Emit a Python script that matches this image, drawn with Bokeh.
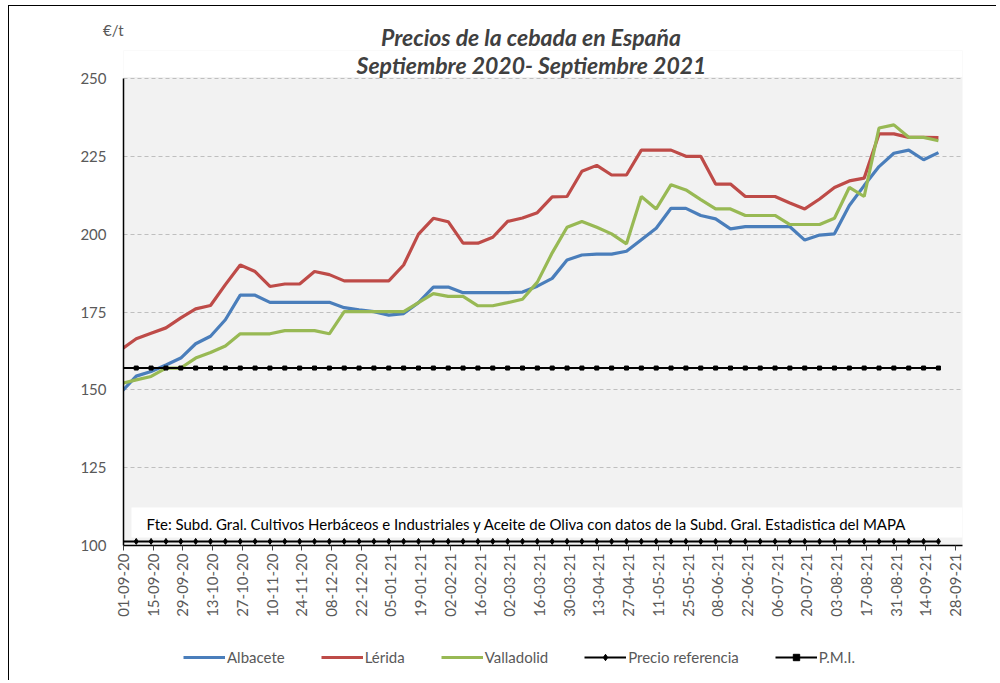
import pandas as pd
from math import pi
from bokeh.plotting import figure
from bokeh.layouts import column
from bokeh.models import (Range1d, FixedTicker, DatetimeTickFormatter, Legend, LegendItem,
                          Label, BoxAnnotation, ColumnDataSource, Div)
from bokeh.embed import file_html
from bokeh.resources import INLINE

# ---------------- data ----------------
first_week = "2020-08-31"
n_weeks = 56
albacete = [149.3, 154.4, 155.9, 158.0, 160.2, 164.8, 167.2, 172.5, 180.4, 180.4,
            178.1, 178.1, 178.1, 178.1, 178.1, 176.4, 175.7, 175.1, 174.0, 174.5,
            178.0, 183.0, 183.0, 181.2, 181.2, 181.2, 181.2, 181.4, 183.3, 185.8,
            191.7, 193.3, 193.6, 193.6, 194.5, 198.2, 201.9, 208.3, 208.3, 206.0,
            204.9, 201.7, 202.4, 202.4, 202.4, 202.4, 198.1, 199.7, 200.1, 209.2,
            215.6, 221.7, 226.0, 227.0, 223.9, 226.2]
lerida = [163.0, 166.4, 168.2, 169.9, 173.1, 176.0, 177.1, 183.8, 190.1, 188.0,
          183.2, 184.0, 184.0, 188.0, 187.0, 185.0, 185.0, 185.0, 185.0, 190.1,
          200.0, 205.1, 204.0, 197.1, 197.1, 199.0, 204.1, 205.2, 206.9, 212.0,
          212.1, 220.2, 222.1, 219.0, 219.0, 227.0, 227.0, 227.0, 225.0, 225.0,
          216.1, 216.1, 212.1, 212.1, 212.1, 210.0, 208.1, 211.3, 215.0, 217.1,
          218.0, 232.2, 232.2, 231.1, 231.1, 231.0]
valladolid = [152.0, 153.2, 154.3, 157.0, 157.0, 160.2, 162.0, 164.1, 168.0, 168.0,
              168.0, 169.0, 169.0, 169.0, 168.0, 175.1, 175.1, 175.1, 175.1, 175.1,
              178.0, 180.9, 180.0, 180.0, 177.0, 177.0, 178.0, 179.1, 184.6, 194.0,
              202.2, 204.1, 202.2, 200.1, 196.9, 212.1, 208.1, 215.9, 214.2, 211.1,
              208.1, 208.1, 206.0, 206.0, 206.0, 203.1, 203.1, 203.1, 205.1, 215.0,
              212.1, 234.1, 235.1, 231.1, 231.1, 230.0]
precio_referencia = [101.31] * n_weeks
pmi = [157.0] * n_weeks
tick_start, tick_end = "2020-09-01", "2021-09-28"
y_min, y_max = 100, 250
y_ticks = [100, 125, 150, 175, 200, 225, 250]

series_names = ["Albacete", "Lérida", "Valladolid", "Precio referencia", "P.M.I."]
series_colors = ["#4A7EBB", "#BE4B48", "#98B954"]
title_lines = ["Precios de la cebada en España", "Septiembre 2020- Septiembre 2021"]
unit_label = "€/t"
source_note = ("Fte: Subd. Gral. Cultivos Herbáceos e Industriales y Aceite de Oliva "
               "con datos de la Subd. Gral. Estadistica del MAPA")

dates = pd.date_range(first_week, periods=n_weeks, freq="7D")
tick_dates = pd.date_range(tick_start, tick_end, freq="14D")

src = ColumnDataSource(dict(x=dates, alb=albacete, ler=lerida, val=valladolid,
                            ref=precio_referencia, pmi=pmi))

FONT = "Lato"
GREY = "#595959"
TITLE_GREY = "#404040"
W = 987                       # content width (page x 9 .. 996)
BORDER_L, BORDER_R = 114, 34  # plot frame from page x 123 to 962
PX_PER_UNIT = 467 / (y_max - y_min)   # frame height of the value area
HEAD_ROOM = 28                # px of white frame area kept above the top gridline

# ---------------- header (unit + first title line, real HTML text) ----------------
header_html = (
    f'<div style="position:relative;width:{W}px;height:44px;">'
    f'<div style="position:absolute;left:94px;top:15px;font-family:{FONT};font-size:15px;'
    f'line-height:18px;color:{GREY};">{unit_label}</div>'
    f'<div style="position:absolute;left:222px;width:600px;top:19px;text-align:center;'
    f'font-family:{FONT};font-size:23px;line-height:24px;font-weight:bold;'
    f'font-style:italic;color:{TITLE_GREY};white-space:nowrap;">{title_lines[0]}</div>'
    f'</div>')
hdr = Div(text=header_html, width=W, height=44, margin=0)

# ---------------- main chart ----------------
p = figure(width=W, height=580, output_backend="svg", toolbar_location=None, title=None,
           x_axis_type="datetime",
           x_range=Range1d(pd.Timestamp("2020-09-01"), pd.Timestamp("2021-10-01 08:00")),
           y_range=Range1d(y_min, y_max + HEAD_ROOM / PX_PER_UNIT),
           min_border_left=BORDER_L, min_border_right=BORDER_R, min_border_top=0,
           min_border_bottom=85,
           background_fill_color="#F2F2F2", border_fill_color="white",
           outline_line_color=None)

p.xaxis.ticker = FixedTicker(ticks=[d.timestamp() * 1000 for d in tick_dates])
fmt = "%d-%m-%y"
p.xaxis.formatter = DatetimeTickFormatter(microseconds=fmt, milliseconds=fmt, seconds=fmt,
                                          minsec=fmt, minutes=fmt, hourmin=fmt, hours=fmt,
                                          days=fmt, months=fmt, years=fmt)
p.xaxis.major_label_orientation = pi / 2
p.xaxis.major_tick_out = 5
p.xaxis.major_tick_in = 0
p.xaxis.minor_tick_line_color = None
p.xaxis.major_label_standoff = 3
p.xaxis.axis_line_color = "black"
p.xaxis.axis_line_width = 1.5
p.xaxis.major_tick_line_color = "#404040"

p.yaxis.ticker = FixedTicker(ticks=y_ticks)
p.yaxis.bounds = (y_min, y_max)
p.yaxis.major_tick_out = 0
p.yaxis.major_tick_in = 0
p.yaxis.minor_tick_line_color = None
p.yaxis.major_label_standoff = 17
p.yaxis.axis_line_color = "black"
p.yaxis.axis_line_width = 1.5

for ax in (p.xaxis, p.yaxis):
    ax.major_label_text_font = FONT
    ax.major_label_text_font_size = "15px"
    ax.major_label_text_color = GREY

p.xgrid.visible = False
p.ygrid.grid_line_color = "#BFBFBF"
p.ygrid.grid_line_dash = "4 3"
p.ygrid.grid_line_width = 1

# white area above the value range (holds the second title line)
p.add_layout(BoxAnnotation(bottom=y_max + 0.5, fill_color="white", fill_alpha=1,
                           line_color=None, level="underlay"))
p.add_layout(Label(x=408, y=481, x_units="screen", y_units="screen", text=title_lines[1],
                   text_font=FONT, text_font_size="23px", text_font_style="bold italic",
                   text_color=TITLE_GREY, text_align="center", text_baseline="middle"))

# source note box + text
p.add_layout(BoxAnnotation(left=8, left_units="screen", bottom=8, bottom_units="screen",
                           top=38, top_units="screen", fill_color="white", fill_alpha=1,
                           line_color=None, level="underlay"))
p.add_layout(Label(x=23, y=22, x_units="screen", y_units="screen", text=source_note,
                   text_font=FONT, text_font_size="15px", text_color="black",
                   text_baseline="middle"))

p.line("x", "alb", source=src, line_color=series_colors[0], line_width=3.2)
p.line("x", "ler", source=src, line_color=series_colors[1], line_width=3.2)
p.line("x", "val", source=src, line_color=series_colors[2], line_width=3.2)
p.line("x", "ref", source=src, line_color="black", line_width=2)
p.scatter("x", "ref", source=src, marker="diamond", size=6, color="black")
p.line("x", "pmi", source=src, line_color="black", line_width=2)
p.scatter("x", "pmi", source=src, marker="square", size=4, color="black")

# ---------------- legend strip (proxy glyphs placed outside its visible range) ----------------
lg = figure(width=W, height=50, output_backend="svg", toolbar_location=None, title=None,
            x_range=Range1d(0, 1), y_range=Range1d(0, 1),
            x_axis_location=None, y_axis_location=None,
            min_border_left=BORDER_L, min_border_right=BORDER_R, min_border_top=0,
            min_border_bottom=0, outline_line_color=None,
            background_fill_color="white", border_fill_color="white")
lg.grid.visible = False
proxy = ColumnDataSource(dict(x=[-5], y=[-5]))
l_alb = lg.line("x", "y", source=proxy, line_color=series_colors[0], line_width=3.2)
l_ler = lg.line("x", "y", source=proxy, line_color=series_colors[1], line_width=3.2)
l_val = lg.line("x", "y", source=proxy, line_color=series_colors[2], line_width=3.2)
l_ref = lg.line("x", "y", source=proxy, line_color="black", line_width=2)
m_ref = lg.scatter("x", "y", source=proxy, marker="diamond", size=6, color="black")
l_pmi = lg.line("x", "y", source=proxy, line_color="black", line_width=2)
m_pmi = lg.scatter("x", "y", source=proxy, marker="square", size=4, color="black")

legend = Legend(items=[
    LegendItem(label=series_names[0], renderers=[l_alb]),
    LegendItem(label=series_names[1], renderers=[l_ler]),
    LegendItem(label=series_names[2], renderers=[l_val]),
    LegendItem(label=series_names[3], renderers=[l_ref, m_ref]),
    LegendItem(label=series_names[4], renderers=[l_pmi, m_pmi]),
], orientation="horizontal", location=(60, 14), border_line_color=None,
    background_fill_alpha=0, label_text_font=FONT, label_text_font_size="15px",
    label_text_color=GREY, glyph_width=42, glyph_height=16, label_standoff=2, spacing=36,
    padding=0, margin=0)
lg.add_layout(legend)

layout = column(hdr, p, lg, spacing=0,
                styles={"border-left": "1px solid black", "border-top": "1px solid black",
                        "margin-left": "8px", "margin-top": "5px"})

open("out.html", "w").write(file_html(layout, INLINE))
